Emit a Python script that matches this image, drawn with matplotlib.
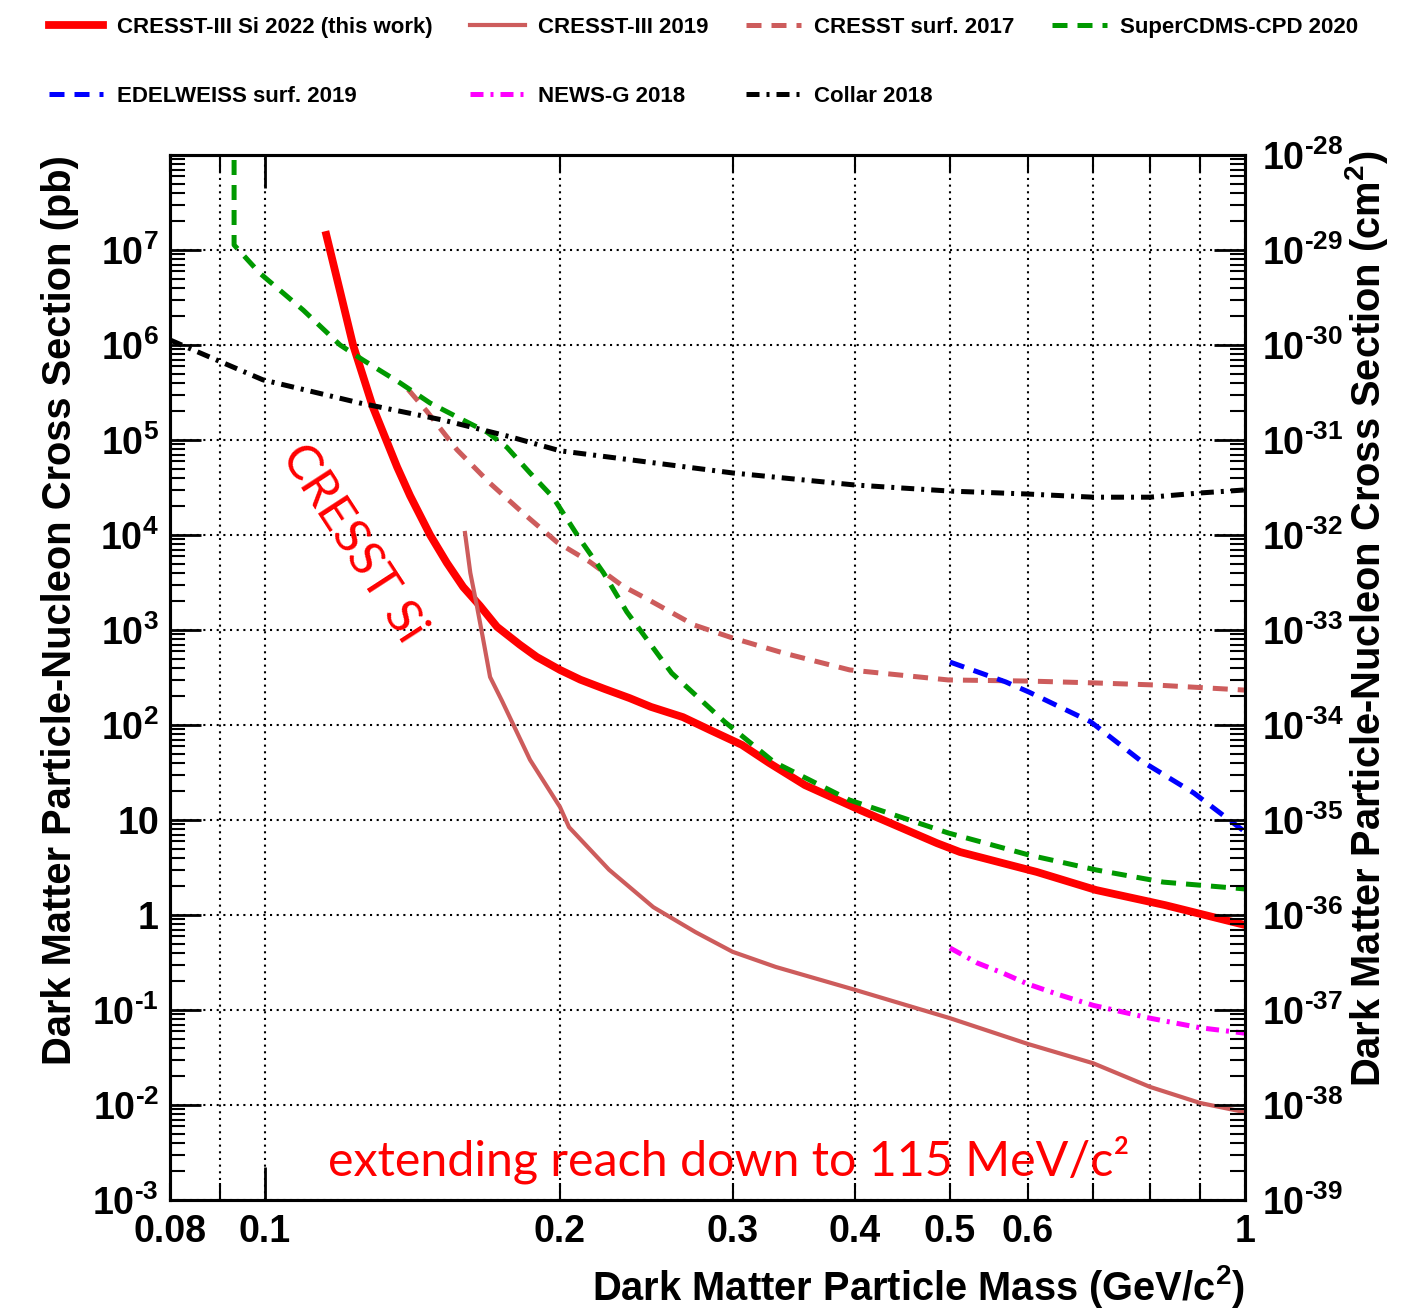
import numpy as np
import matplotlib
matplotlib.use("Agg")
import matplotlib.pyplot as plt
from matplotlib.ticker import FixedLocator, FixedFormatter, LogLocator, NullFormatter
from matplotlib.font_manager import FontProperties

plt.rcParams['font.family'] = ['Liberation Sans', 'DejaVu Sans']
plt.rcParams['font.weight'] = 'bold'
plt.rcParams['mathtext.fontset'] = 'custom'
plt.rcParams['mathtext.rm'] = 'Liberation Sans:bold'
plt.rcParams['mathtext.it'] = 'Liberation Sans:bold'
plt.rcParams['mathtext.bf'] = 'Liberation Sans:bold'
plt.rcParams['mathtext.sf'] = 'Liberation Sans:bold'

# ---------------- data (mass in GeV/c^2, cross section in pb) ----------------
si22_mass = [0.1155, 0.1192, 0.123, 0.1289, 0.1364, 0.1406, 0.1474, 0.1533, 0.1593, 0.1657,
             0.1725, 0.182, 0.1894, 0.2, 0.2098, 0.222, 0.2355, 0.2477, 0.267, 0.2845,
             0.3067, 0.327, 0.3556, 0.405, 0.485, 0.512, 0.613, 0.705, 0.829, 1.0]
si22_xsec = [1.44e7, 3.8e6, 1.0e6, 2.2e5, 5.2e4, 2.6e4, 1.0e4, 5.1e3, 2.84e3, 1.8e3,
             1.08e3, 700, 520, 380, 300, 240, 192, 155, 121, 88.6,
             61.7, 39.8, 23.3, 12.7, 5.7, 4.6, 2.84, 1.83, 1.27, 0.785]

c19_mass = [0.160, 0.162, 0.1646, 0.167, 0.1697, 0.1745, 0.1864, 0.2, 0.2043, 0.2244,
            0.249, 0.275, 0.3, 0.332, 0.4, 0.5, 0.6, 0.7, 0.8, 0.9, 1.0]
c19_xsec = [1.05e4, 4.0e3, 1.75e3, 790, 320, 180, 43, 13.7, 8.4, 3.0,
            1.21, 0.66, 0.41, 0.284, 0.163, 0.082, 0.044, 0.0275, 0.0155, 0.0105, 0.0084]

surf17_mass = [0.140, 0.1463, 0.157, 0.1697, 0.1834, 0.1986, 0.2146, 0.2318, 0.2465, 0.274,
               0.3, 0.338, 0.395, 0.498, 0.602, 0.705, 0.808, 1.0]
surf17_xsec = [3.4e5, 2.0e5, 7.9e4, 3.5e4, 1.7e4, 8.4e3, 5.2e3, 2.9e3, 2.07e3, 1.13e3,
               824, 573, 380, 298, 290, 277, 264, 233]

cdms_mass = [0.093, 0.093, 0.0988, 0.1094, 0.1193, 0.1259, 0.1373, 0.1474, 0.1593, 0.1685,
             0.1765, 0.1864, 0.1967, 0.2098, 0.2215, 0.234, 0.260, 0.2945, 0.3306, 0.395,
             0.498, 0.602, 0.705, 0.825, 1.0]
cdms_xsec = [1e9, 1.13e7, 5.7e6, 2.33e6, 1.0e6, 6.95e5, 4.0e5, 2.45e5, 1.62e5, 1.21e5,
             8.4e4, 4.5e4, 2.5e4, 8.9e3, 4.0e3, 1.55e3, 352, 108, 40.8, 16.2,
             7.3, 4.28, 2.98, 2.22, 1.88]

edw_mass = [0.5, 0.570, 0.602, 0.696, 0.781, 0.887, 1.0]
edw_xsec = [460, 284, 222, 108, 42.8, 19.2, 7.5]

newsg_mass = [0.5, 0.533, 0.566, 0.6, 0.647, 0.7, 0.8, 0.9, 1.0]
newsg_xsec = [0.45, 0.313, 0.245, 0.188, 0.144, 0.112, 0.082, 0.065, 0.057]

collar_mass = [0.08, 0.0844, 0.0995, 0.125, 0.152, 0.178, 0.2, 0.3, 0.4, 0.5,
               0.6, 0.7, 0.8, 0.9, 1.0]
collar_xsec = [1.13e6, 8.9e5, 4.3e5, 2.45e5, 1.62e5, 1.08e5, 7.7e4, 4.5e4, 3.36e4, 2.9e4,
               2.7e4, 2.5e4, 2.5e4, 2.77e4, 2.98e4]

x_label_ticks = [0.08, 0.1, 0.2, 0.3, 0.4, 0.5, 0.6, 1.0]
x_label_texts = ['0.08', '0.1', '0.2', '0.3', '0.4', '0.5', '0.6', '1']
x_grid_ticks = [0.08, 0.09, 0.2, 0.3, 0.4, 0.5, 0.6, 0.7, 0.8, 0.9]
x_major_ticks = [0.1, 1.0]
y_exponents = list(range(-3, 9))
cm2_exponents = list(range(-39, -27))


def sci(e):
    if e < 0:
        return r'$10^{\text{-}%d}$' % (-e)
    return r'$10^{%d}$' % e


# ---------------- figure ----------------
fig = plt.figure(figsize=(14.1, 13.12), dpi=100)
ax = fig.add_axes([170/1410, 1-1200/1312, 1075/1410, 1045/1312])
ax.set_xscale('log')
ax.set_yscale('log')
ax.set_xlim(0.08, 1.0)
ax.set_ylim(1e-3, 1e8)

dash = (0, (3, 2))
dashdot = (0, (2.6, 1.4, 0.6, 1.4))
h_si, = ax.plot(si22_mass, si22_xsec, color='#ff0000', lw=5.6, label='CRESST-III Si 2022 (this work)', zorder=3)
h_c19, = ax.plot(c19_mass, c19_xsec, color='#cd5c5c', lw=3.0, label='CRESST-III 2019', zorder=4)
h_s17, = ax.plot(surf17_mass, surf17_xsec, color='#cd5c5c', lw=3.6, ls=dash, label='CRESST surf. 2017', zorder=4)
h_cdms, = ax.plot(cdms_mass, cdms_xsec, color='#009900', lw=3.6, ls=dash, label='SuperCDMS-CPD 2020', zorder=4)
h_edw, = ax.plot(edw_mass, edw_xsec, color='#0000ff', lw=3.6, ls=dash, label='EDELWEISS surf. 2019', zorder=4)
h_news, = ax.plot(newsg_mass, newsg_xsec, color='#ff00ff', lw=3.6, ls=dashdot, label='NEWS-G 2018', zorder=4)
h_col, = ax.plot(collar_mass, collar_xsec, color='black', lw=3.6, ls=dashdot, label='Collar 2018', zorder=4)

# x axis ticks
ax.xaxis.set_major_locator(FixedLocator(x_major_ticks))
ax.xaxis.set_minor_locator(FixedLocator(x_grid_ticks))
ax.xaxis.set_major_formatter(FixedFormatter(['0.1', '1']))
minor_lbls = []
for t in x_grid_ticks:
    minor_lbls.append(x_label_texts[x_label_ticks.index(t)] if t in x_label_ticks else '')
ax.xaxis.set_minor_formatter(FixedFormatter(minor_lbls))
ax.tick_params(axis='x', which='major', direction='in', length=24, width=2, top=True,
               labelsize=27, pad=10)
ax.tick_params(axis='x', which='minor', direction='in', length=12, width=1.5, top=True,
               labelsize=27, pad=10)

# y axis ticks
ax.yaxis.set_major_locator(FixedLocator([10.0**e for e in y_exponents]))
ylbls = []
for e in y_exponents:
    if e == 8:
        ylbls.append('')
    elif e == 0:
        ylbls.append('1')
    elif e == 1:
        ylbls.append('10')
    else:
        ylbls.append(sci(e))
ax.yaxis.set_major_formatter(FixedFormatter(ylbls))
ax.yaxis.set_minor_locator(LogLocator(base=10, subs=np.arange(2, 10), numticks=200))
ax.yaxis.set_minor_formatter(NullFormatter())
ax.tick_params(axis='y', which='major', direction='in', length=22, width=2, right=False,
               labelsize=27, pad=8)
ax.tick_params(axis='y', which='minor', direction='in', length=11, width=1.5, right=False)

ax.grid(True, which='both', axis='x', color='black', lw=1.5, ls=(0, (1, 2.2)))
ax.grid(True, which='major', axis='y', color='black', lw=1.5, ls=(0, (1, 2.2)))

for s in ax.spines.values():
    s.set_linewidth(2.2)

# right axis in cm^2
ax2 = ax.twinx()
ax2.set_yscale('log')
ax2.set_ylim(1e-39, 1e-28)
ax2.yaxis.set_major_locator(FixedLocator([10.0**e for e in cm2_exponents]))
ax2.yaxis.set_major_formatter(FixedFormatter([sci(e) for e in cm2_exponents]))
ax2.yaxis.set_minor_locator(LogLocator(base=10, subs=np.arange(2, 10), numticks=200))
ax2.yaxis.set_minor_formatter(NullFormatter())
ax2.tick_params(axis='y', which='major', direction='in', length=22, width=2, labelsize=27, pad=12)
ax2.tick_params(axis='y', which='minor', direction='in', length=11, width=1.5)
for s in ax2.spines.values():
    s.set_linewidth(2.2)

# axis titles
fig.text(1245/1410, 1-1287/1312, 'Dark Matter Particle Mass (GeV/c$^{2}$)', ha='right', va='center',
         fontsize=28.7, fontweight='bold')
fig.text(60/1410, 1-155/1312, 'Dark Matter Particle-Nucleon Cross Section (pb)', rotation=90,
         ha='center', va='top', fontsize=28.7, fontweight='bold')
fig.text(1366/1410, 1-150/1312, 'Dark Matter Particle-Nucleon Cross Section (cm$^{2}$)', rotation=90,
         ha='center', va='top', fontsize=28.7, fontweight='bold')

# annotations
ax.text((328-170)/1075, (1200-1175)/1045, 'extending reach down to 115 MeV/c\u00b2', transform=ax.transAxes,
        ha='left', va='baseline', fontsize=34.8, color='#ff0000', family=['Lato', 'DejaVu Sans'],
        fontweight='normal')
ax.text((280-170)/1075, (1200-456)/1045, 'CRESST Si', transform=ax.transAxes, rotation=-57,
        rotation_mode='anchor', ha='left', va='baseline', fontsize=35.5, color='#ff0000',
        family=['Lato', 'DejaVu Sans'], fontweight='normal')

# legend (column-major fill -> rows as in reference)
handles = [h_si, h_edw, h_c19, h_news, h_s17, h_col, h_cdms]
fig.legend(handles, [h.get_label() for h in handles], loc='upper left',
           bbox_to_anchor=(49/1410, 1-17/1312), ncol=4, frameon=False,
           prop=FontProperties(family='Liberation Sans', weight='bold', size=16),
           handlelength=2.45, handletextpad=0.6, columnspacing=1.7, labelspacing=2.15,
           borderpad=0, borderaxespad=0)

fig.savefig('out.png', dpi=100)
